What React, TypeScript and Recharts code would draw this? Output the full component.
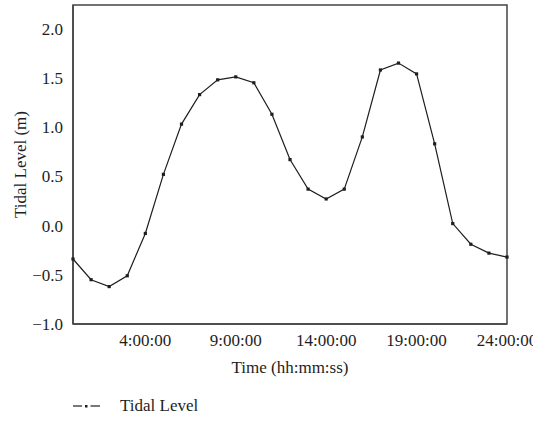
import React from 'react'
import { LineChart, Line, XAxis, YAxis, Legend, Label, ReferenceArea } from 'recharts'

const HOURS = [0, 1, 2, 3, 4, 5, 6, 7, 8, 9, 10, 11, 12, 13, 14, 15, 16, 17, 18, 19, 20, 21, 22, 23, 24]
const TIDAL_LEVEL = [
  -0.34, -0.55, -0.62, -0.51, -0.08, 0.52, 1.03, 1.33, 1.48, 1.51, 1.45, 1.13, 0.67,
  0.37, 0.27, 0.37, 0.9, 1.58, 1.65, 1.54, 0.83, 0.02, -0.19, -0.28, -0.32,
]
const X_TICKS = [4, 9, 14, 19, 24]
const Y_TICKS = [-1, -0.5, 0, 0.5, 1, 1.5, 2]
const X_DOMAIN = [0, 24]
const Y_DOMAIN = [-1, 2.24]

const data = HOURS.map((h, i) => ({ hour: h, level: TIDAL_LEVEL[i] }))

const FONT = '"Liberation Serif", "DejaVu Serif", serif'
const INK = '#1e1e1e'
const AXIS = '#444'
const FS = 17

const fmtY = (v: number) => v.toFixed(1).replace('-', '\u2212')
const fmtX = (v: number) => `${v}:00:00`

function SquareDot(props: any) {
  const { cx, cy } = props
  if (cx == null || cy == null) return null
  return <rect x={cx - 1.6} y={cy - 1.6} width={3.2} height={3.2} fill={INK} />
}

function LegendContent() {
  return (
    <div style={{ display: 'flex', alignItems: 'center', paddingLeft: 73, paddingTop: 10, fontSize: FS, color: INK, fontFamily: FONT }}>
      <svg width={28} height={10} style={{ marginRight: 19 }}>
        <line x1={0} y1={5} x2={9} y2={5} stroke={INK} strokeWidth={1.2} />
        <rect x={12} y={4} width={2.5} height={2.5} fill={INK} />
        <line x1={17.5} y1={5} x2={27} y2={5} stroke={INK} strokeWidth={1.2} />
      </svg>
      <span>Tidal Level</span>
    </div>
  )
}

export default function App() {
  return (
    <div style={{ position: 'absolute', left: 0, top: 0, width: 533, height: 423, background: '#fff', fontFamily: FONT }}>
      <LineChart width={533} height={423} data={data} margin={{ top: 5, right: 26, bottom: 0, left: 0 }}>
        <XAxis
          dataKey="hour"
          type="number"
          domain={X_DOMAIN}
          ticks={X_TICKS}
          tickFormatter={fmtX}
          tickLine={false}
          tickSize={0}
          tickMargin={10}
          axisLine={{ stroke: AXIS, strokeWidth: 1.5 }}
          tick={{ fontSize: FS, fill: INK, fontFamily: FONT }}
          height={62}
          interval={0}
        >
          <Label value="Time (hh:mm:ss)" position="insideBottom" offset={13} style={{ fontSize: FS, fill: INK, fontFamily: FONT }} />
        </XAxis>
        <YAxis
          type="number"
          domain={Y_DOMAIN}
          ticks={Y_TICKS}
          tickFormatter={fmtY}
          tickLine={false}
          tickSize={0}
          tickMargin={10}
          axisLine={{ stroke: AXIS, strokeWidth: 1.5 }}
          tick={{ fontSize: FS, fill: INK, fontFamily: FONT }}
          width={73}
          allowDataOverflow
        >
          <Label value="Tidal Level (m)" angle={-90} position="insideLeft" offset={20} style={{ fontSize: FS, fill: INK, fontFamily: FONT, textAnchor: 'middle' }} />
        </YAxis>
        <ReferenceArea
          x1={X_DOMAIN[0]}
          x2={X_DOMAIN[1]}
          y1={Y_DOMAIN[0]}
          y2={Y_DOMAIN[1]}
          fill="none"
          fillOpacity={0}
          stroke={AXIS}
          strokeWidth={1.5}
          ifOverflow="visible"
        />
        <Legend verticalAlign="bottom" align="left" height={37} content={<LegendContent />} />
        <Line
          type="linear"
          dataKey="level"
          stroke={INK}
          strokeWidth={1.2}
          dot={<SquareDot />}
          activeDot={false}
          isAnimationActive={false}
          name="Tidal Level"
        />
      </LineChart>
    </div>
  )
}
